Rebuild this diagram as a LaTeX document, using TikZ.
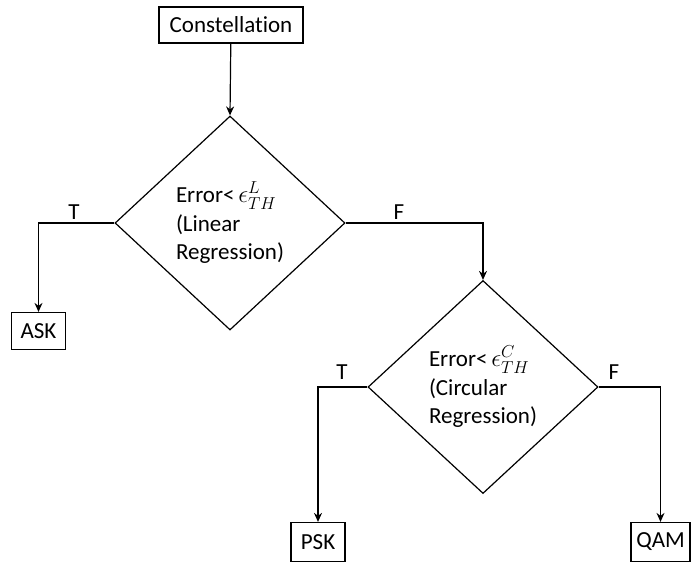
\documentclass[tikz,border=0pt]{standalone}
\usepackage{fontspec}
\setmainfont{Carlito}[RawFeature=-liga]
\usetikzlibrary{shapes.geometric,arrows.meta}
\begin{document}
\begin{tikzpicture}[x=1pt,y=-1pt,
  font=\fontsize{23}{28.5}\selectfont,
  every path/.style={line width=1.2pt},
  box/.style={draw,line width=1.2pt,inner sep=0pt},
  decision/.style={draw,diamond,line width=1.2pt,inner sep=0pt,align=left},
  lbl/.style={inner sep=0pt},
  arr/.style={-{Stealth[length=9pt,width=8pt]},line width=1.2pt}]
\useasboundingbox (0,0) rectangle (693,563);
\node[box,minimum width=144pt,minimum height=36pt] (con) at (231,25) {Constellation};
\node[decision,minimum width=230pt,minimum height=214pt] (d1) at (230,223)
  {Error<\,$\epsilon^{L}_{TH}$\\(Linear\\Regression)};
\node[box,minimum width=54pt,minimum height=37pt] (ask) at (38.5,331) {ASK};
\node[decision,minimum width=230pt,minimum height=213pt] (d2) at (483,387)
  {Error<\,$\epsilon^{C}_{TH}$\\(Circular\\Regression)};
\node[box,minimum width=54pt,minimum height=39pt] (psk) at (318,542) {PSK};
\node[box,minimum width=59pt,minimum height=39pt] (qam) at (660.5,542) {QAM};
\draw[arr] (con) -- (d1.north);
\draw[arr] (d1.west) -| (ask.north);
\draw[arr] (d1.east) -| (d2.north);
\draw[arr] (d2.west) -| (psk.north);
\draw[arr] (d2.east) -| (qam.north);
\node[lbl] (t1) at (74,212) {T};
\node[lbl] (f1) at (399,212) {F};
\node[lbl] (t2) at (342,372) {T};
\node[lbl] (f2) at (614,372) {F};
\end{tikzpicture}
\end{document}
